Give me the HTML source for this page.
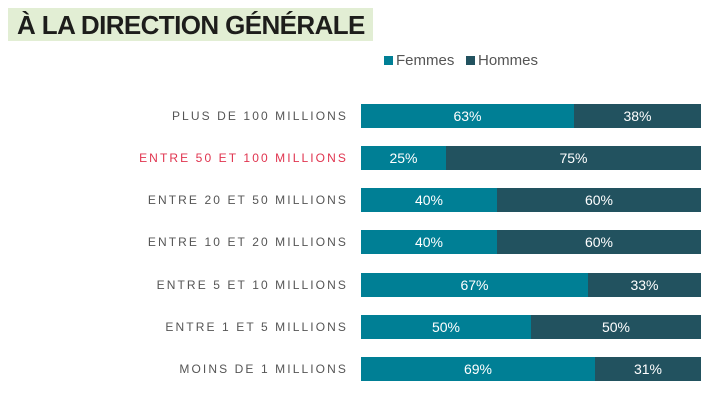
<!DOCTYPE html>
<html><head><meta charset="utf-8"><style>
body{margin:0;width:722px;height:400px;background:#fff;position:relative;font-family:"Liberation Sans",sans-serif;overflow:hidden}
.title{position:absolute;left:8px;top:8px;width:365px;height:33px;background:#e2eed4;font-weight:bold;font-size:26px;line-height:34px;color:#1d1d1b;padding-left:9px;box-sizing:border-box;letter-spacing:-0.6px;white-space:nowrap}
.leg{position:absolute;top:52px;font-size:15px;color:#555}
.sw{display:inline-block;width:9px;height:9px;margin-right:3px}
.lab{position:absolute;right:374px;font-size:12px;letter-spacing:2.1px;color:#555;line-height:24px;white-space:nowrap}
.bar{position:absolute;left:361px;width:340px;height:24px;display:flex}
.bar div{color:#fff;font-size:14px;text-align:center;line-height:24px}
.f{background:#007f95}.h{background:#22525f}
</style></head><body>
<div class="title">À LA DIRECTION GÉNÉRALE</div>
<div class="leg" style="left:384px"><span class="sw f"></span>Femmes</div>
<div class="leg" style="left:466px"><span class="sw h"></span>Hommes</div>

<div class="lab" style="top:104px">PLUS DE 100 MILLIONS</div>
<div class="bar" style="top:104px"><div class="f" style="width:213px">63%</div><div class="h" style="flex:1">38%</div></div>

<div class="lab" style="top:146px;color:#e0344f">ENTRE 50 ET 100 MILLIONS</div>
<div class="bar" style="top:146px"><div class="f" style="width:85px">25%</div><div class="h" style="flex:1">75%</div></div>

<div class="lab" style="top:188px">ENTRE 20 ET 50 MILLIONS</div>
<div class="bar" style="top:188px"><div class="f" style="width:136px">40%</div><div class="h" style="flex:1">60%</div></div>

<div class="lab" style="top:230px">ENTRE 10 ET 20 MILLIONS</div>
<div class="bar" style="top:230px"><div class="f" style="width:136px">40%</div><div class="h" style="flex:1">60%</div></div>

<div class="lab" style="top:273px">ENTRE 5 ET 10 MILLIONS</div>
<div class="bar" style="top:273px"><div class="f" style="width:227px">67%</div><div class="h" style="flex:1">33%</div></div>

<div class="lab" style="top:315px">ENTRE 1 ET 5 MILLIONS</div>
<div class="bar" style="top:315px"><div class="f" style="width:170px">50%</div><div class="h" style="flex:1">50%</div></div>

<div class="lab" style="top:357px">MOINS DE 1 MILLIONS</div>
<div class="bar" style="top:357px"><div class="f" style="width:234px">69%</div><div class="h" style="flex:1">31%</div></div>
</body></html>
